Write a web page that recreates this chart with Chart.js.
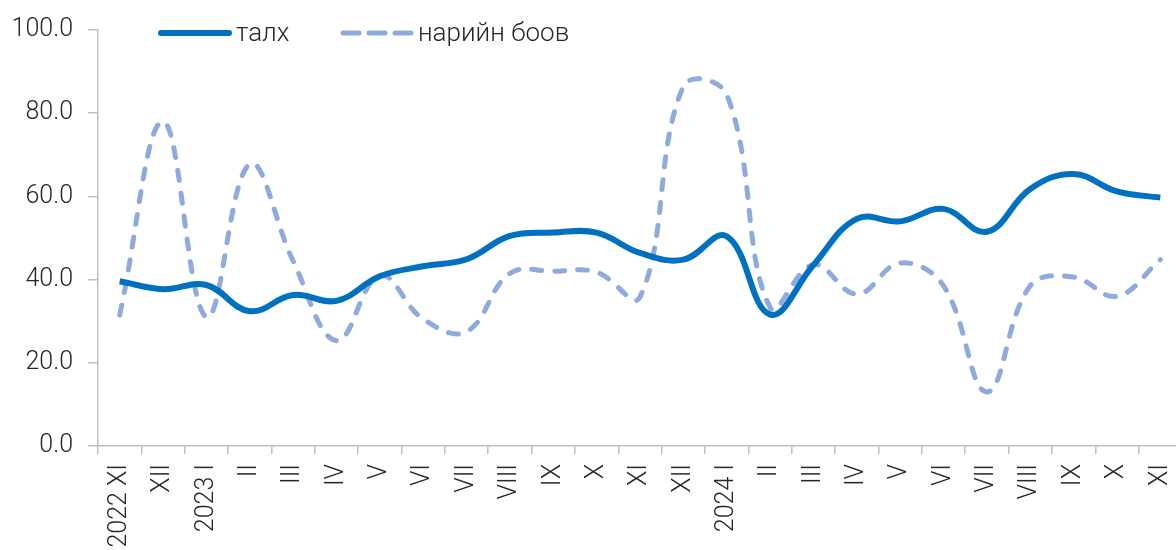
<!DOCTYPE html>
<html lang="mn">
<head>
  <meta charset="UTF-8" />
  <title>талх, нарийн боов</title>
  <script src="https://cdn.jsdelivr.net/npm/chart.js"></script>
  <style>
    html, body { margin: 0; padding: 0; background: #fff; overflow: hidden; }
    /* the original plot runs a few pixels past the right edge */
    #wrap { width: 1176px; height: 550px; overflow: hidden; }
  </style>
</head>
<body>
  <div id="wrap"><canvas id="myChart" width="1182" height="550"></canvas></div>

  <script>
    // month labels, as on the x axis
    const labels = [
      "2022 XI", "XII", "2023 I", "II", "III", "IV", "V", "VI", "VII", "VIII", "IX", "X",
      "XI", "XII", "2024 I", "II", "III", "IV", "V", "VI", "VII", "VIII", "IX", "X", "XI"
    ];
    // талх (bread)
    const talx = [
      39.6, 37.7, 38.7, 32.4, 36.3, 34.9, 40.8, 43.2, 44.9, 50.5, 51.3, 51.3,
      46.4, 44.8, 50.4, 31.6, 43.5, 54.6, 54.0, 57.0, 51.5, 61.8, 65.4, 61.2, 59.7
    ];
    // нарийн боов (pastry)
    const boov = [
      31.5, 78.0, 31.0, 67.8, 44.5, 25.3, 41.0, 30.5, 27.5, 41.5, 42.0, 41.8,
      35.8, 86.5, 84.5, 33.3, 43.6, 36.5, 44.0, 38.5, 13.0, 38.5, 40.6, 36.0, 44.8
    ];
    const yTicks = [0, 20, 40, 60, 80, 100];

    const axisColor = '#bfbfbf';
    const textColor = '#262626';
    const font = { family: 'Roboto', size: 25, weight: '300' };

    // legend drawn at the top inside the plot, like the original
    const legendPlugin = {
      id: 'topLegend',
      afterDraw(chart) {
        const ctx = chart.ctx;
        const items = [
          { ds: chart.data.datasets[0], x: 161, w: 68, dash: [] },
          { ds: chart.data.datasets[1], x: 343, w: 68, dash: [16, 10] }
        ];
        const y = 33;
        ctx.save();
        items.forEach(it => {
          ctx.beginPath();
          ctx.lineWidth = it.ds.borderWidth;
          ctx.strokeStyle = it.ds.borderColor;
          ctx.lineCap = 'round';
          ctx.setLineDash(it.dash);
          ctx.moveTo(it.x, y);
          ctx.lineTo(it.x + it.w, y);
          ctx.stroke();
          ctx.setLineDash([]);
          ctx.fillStyle = textColor;
          ctx.font = `300 26px Roboto`;
          ctx.textBaseline = 'middle';
          ctx.fillText(it.ds.label, it.x + it.w + 7, y + 1);
        });
        ctx.restore();
      }
    };

    new Chart(document.getElementById('myChart'), {
      type: 'line',
      data: {
        labels: labels,
        datasets: [
          {
            label: 'талх',
            data: talx,
            borderColor: '#0070c0',
            borderWidth: 6,
            tension: 0.4,
            pointRadius: 0,
            fill: false
          },
          {
            label: 'нарийн боов',
            data: boov,
            borderColor: '#8faadc',
            borderWidth: 5,
            borderDash: [10, 13],
            borderCapStyle: 'round',
            tension: 0.4,
            pointRadius: 0,
            fill: false
          }
        ]
      },
      options: {
        responsive: false,
        animation: false,
        events: [],
        layout: { padding: { top: 27, right: 0, left: 0, bottom: 0 } },
        plugins: {
          legend: { display: false },
          tooltip: { enabled: false }
        },
        scales: {
          x: {
            offset: true,
            grid: {
              offset: true,
              drawOnChartArea: false,
              drawTicks: true,
              tickLength: 8,
              color: axisColor,
              lineWidth: 1.5
            },
            border: { color: axisColor, width: 1.5 },
            ticks: {
              color: textColor,
              font: font,
              minRotation: 90,
              maxRotation: 90,
              autoSkip: false,
              padding: 10
            },
            afterFit(scale) {
              scale.height = 104;
              scale.paddingLeft = 0;
              scale.paddingRight = 0;
            }
          },
          y: {
            min: 0,
            max: 100,
            afterBuildTicks(scale) { scale.ticks = yTicks.map(v => ({ value: v })); },
            grid: {
              drawOnChartArea: false,
              drawTicks: true,
              tickLength: 10,
              color: axisColor,
              lineWidth: 1.5
            },
            border: { color: axisColor, width: 1.5 },
            ticks: {
              color: textColor,
              font: font,
              padding: 15,
              callback: v => Number(v).toFixed(1)
            },
            afterFit(scale) { scale.width = 98; }
          }
        }
      },
      plugins: [legendPlugin]
    });
  </script>
</body>
</html>
